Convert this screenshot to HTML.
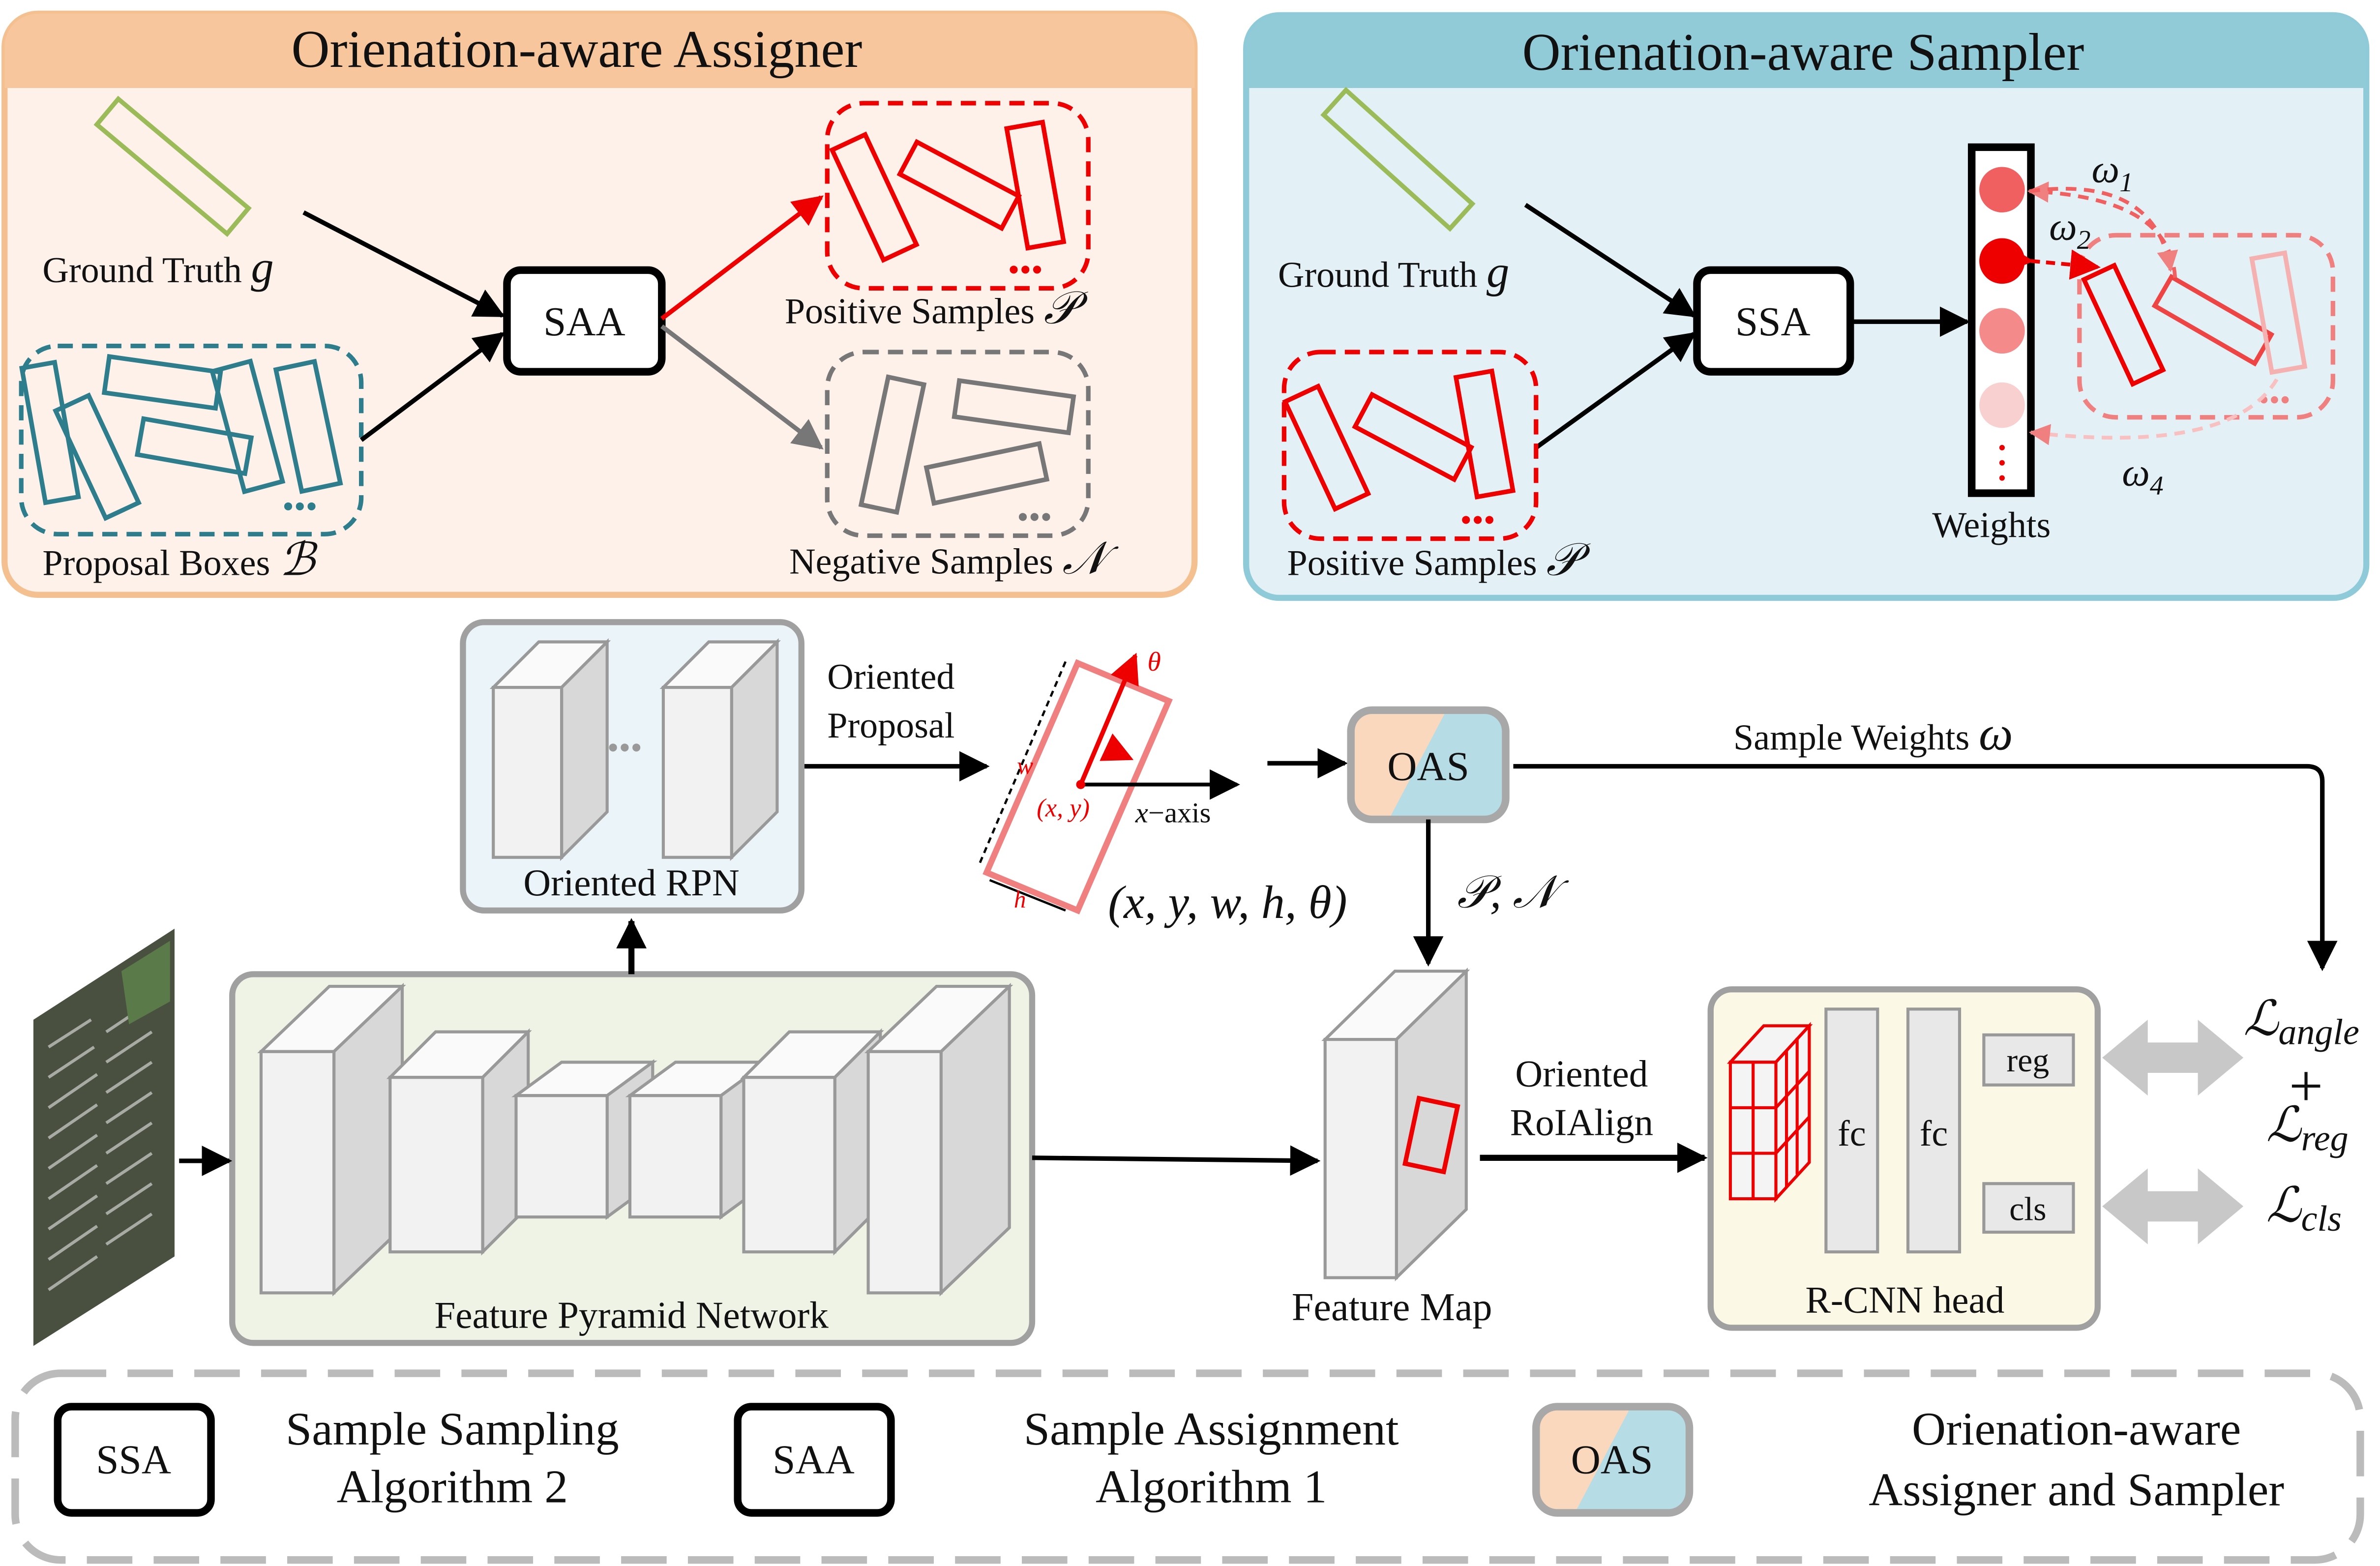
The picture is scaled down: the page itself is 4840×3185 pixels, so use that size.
<!DOCTYPE html>
<html><head><meta charset="utf-8"><style>
html,body{margin:0;padding:0;background:#fff;}
svg{display:block;}
text{font-family:"Liberation Serif",serif;fill:#111;}
</style></head><body>
<svg width="4840" height="3185" viewBox="0 0 1568 1032" preserveAspectRatio="none" xmlns="http://www.w3.org/2000/svg">
<defs>
<marker id="abk" viewBox="0 0 10 10" refX="9" refY="5" markerWidth="20" markerHeight="20" markerUnits="userSpaceOnUse" orient="auto"><path d="M0,0 L10,5 L0,10 z" fill="#000"/></marker>
<marker id="ar" viewBox="0 0 10 10" refX="9" refY="5" markerWidth="20" markerHeight="20" markerUnits="userSpaceOnUse" orient="auto"><path d="M0,0 L10,5 L0,10 z" fill="#e00"/></marker>
<marker id="ag" viewBox="0 0 10 10" refX="9" refY="5" markerWidth="20" markerHeight="20" markerUnits="userSpaceOnUse" orient="auto"><path d="M0,0 L10,5 L0,10 z" fill="#777"/></marker>
<marker id="ap" viewBox="0 0 10 10" refX="9" refY="5" markerWidth="14" markerHeight="14" markerUnits="userSpaceOnUse" orient="auto"><path d="M0,0 L10,5 L0,10 z" fill="#f08080"/></marker>
<linearGradient id="oas" gradientUnits="userSpaceOnUse" x1="898" y1="485" x2="970" y2="523"><stop offset="0.5" stop-color="#f9d8bd"/><stop offset="0.5" stop-color="#b6dce6"/></linearGradient>
<linearGradient id="oas2" gradientUnits="userSpaceOnUse" x1="1020" y1="943" x2="1092" y2="981"><stop offset="0.5" stop-color="#f9d8bd"/><stop offset="0.5" stop-color="#b6dce6"/></linearGradient>
</defs>

<!-- Left panel -->
<rect x="3" y="9" width="784" height="383" rx="22" fill="#fdf1ea" stroke="#f4c08f" stroke-width="4"/>
<path d="M3,58 V31 A22,22 0 0 1 25,9 H765 A22,22 0 0 1 787,31 V58 Z" fill="#f8c69d"/>
<text x="380" y="44" font-size="35" text-anchor="middle">Orienation-aware Assigner</text>
<rect x="58" y="98" width="112" height="22" fill="none" stroke="#9bbb59" stroke-width="3" transform="rotate(40 113 109)"/>
<text x="28" y="186" font-size="24">Ground Truth <tspan font-style="italic" font-size="30">g</tspan></text>
<rect x="14" y="228" width="224" height="124" rx="24" fill="none" stroke="#2e7d8c" stroke-width="3" stroke-dasharray="10,6"/>
<g fill="none" stroke="#2e7d8c" stroke-width="3">
<rect x="22" y="240" width="22" height="90" transform="rotate(-10 33 285)"/>
<rect x="52" y="262" width="24" height="78" transform="rotate(-25 64 301)"/>
<rect x="70" y="240" width="74" height="24" transform="rotate(8 107 252)"/>
<rect x="92" y="282" width="72" height="24" transform="rotate(10 128 294)"/>
<rect x="150" y="240" width="26" height="82" transform="rotate(-15 163 281)"/>
<rect x="190" y="240" width="26" height="82" transform="rotate(-12 203 281)"/>
</g>
<text x="186" y="341" font-size="22" style="fill:#2e7d8c">•••</text>
<text x="28" y="379" font-size="24">Proposal Boxes <tspan font-style="italic" font-size="30">ℬ</tspan></text>
<rect x="334" y="178" width="102" height="67" rx="9" fill="#fff" stroke="#000" stroke-width="5"/>
<text x="385" y="221" font-size="27" text-anchor="middle">SAA</text>
<line x1="200" y1="140" x2="331" y2="208" stroke="#000" stroke-width="3" marker-end="url(#abk)"/>
<line x1="238" y1="290" x2="331" y2="220" stroke="#000" stroke-width="3" marker-end="url(#abk)"/>
<line x1="436" y1="210" x2="541" y2="130" stroke="#e00" stroke-width="3" marker-end="url(#ar)"/>
<line x1="436" y1="215" x2="541" y2="295" stroke="#777" stroke-width="3" marker-end="url(#ag)"/>
<rect x="545" y="68" width="172" height="122" rx="24" fill="none" stroke="#e00" stroke-width="3" stroke-dasharray="10,6"/>
<g fill="none" stroke="#e00" stroke-width="3">
<rect x="564" y="90" width="24" height="80" transform="rotate(-25 576 130)"/>
<rect x="594" y="110" width="76" height="24" transform="rotate(28 632 122)"/>
<rect x="670" y="82" width="24" height="80" transform="rotate(-10 682 122)"/>
</g>
<text x="664" y="185" font-size="22" style="fill:#e00">•••</text>
<text x="517" y="213" font-size="24">Positive Samples <tspan font-style="italic" font-size="30">𝒫</tspan></text>
<rect x="545" y="232" width="172" height="121" rx="24" fill="none" stroke="#777" stroke-width="3" stroke-dasharray="10,6"/>
<g fill="none" stroke="#777" stroke-width="3">
<rect x="576" y="250" width="24" height="86" transform="rotate(12 588 293)"/>
<rect x="630" y="256" width="76" height="24" transform="rotate(8 668 268)"/>
<rect x="612" y="300" width="76" height="24" transform="rotate(-12 650 312)"/>
</g>
<text x="670" y="348" font-size="22" style="fill:#777">•••</text>
<text x="520" y="378" font-size="24">Negative Samples <tspan font-style="italic" font-size="30">𝒩</tspan></text>

<!-- Right panel -->
<rect x="821" y="10" width="738" height="384" rx="22" fill="#e3f1f6" stroke="#8ecad8" stroke-width="4"/>
<path d="M821,58 V32 A22,22 0 0 1 843,10 H1537 A22,22 0 0 1 1559,32 V58 Z" fill="#92cbd8"/>
<text x="1188" y="46" font-size="35" text-anchor="middle">Orienation-aware Sampler</text>
<rect x="865" y="94" width="112" height="22" fill="none" stroke="#9bbb59" stroke-width="3" transform="rotate(42 921 105)"/>
<text x="842" y="189" font-size="24">Ground Truth <tspan font-style="italic" font-size="30">g</tspan></text>
<rect x="1118" y="178" width="101" height="67" rx="9" fill="#fff" stroke="#000" stroke-width="5"/>
<text x="1168" y="221" font-size="27" text-anchor="middle">SSA</text>
<line x1="1005" y1="135" x2="1116" y2="208" stroke="#000" stroke-width="3" marker-end="url(#abk)"/>
<line x1="1012" y1="295" x2="1116" y2="220" stroke="#000" stroke-width="3" marker-end="url(#abk)"/>
<line x1="1219" y1="212" x2="1296" y2="212" stroke="#000" stroke-width="3" marker-end="url(#abk)"/>
<rect x="1299" y="97" width="39" height="228" fill="#fff" stroke="#000" stroke-width="5"/>
<circle cx="1319" cy="125" r="15" fill="#f06060"/>
<circle cx="1319" cy="172" r="15" fill="#ee0000"/>
<circle cx="1319" cy="218" r="15" fill="#f48a8a"/>
<circle cx="1319" cy="267" r="15" fill="#f8d0d0"/>
<g fill="#e00"><circle cx="1319" cy="295" r="1.8"/><circle cx="1319" cy="305" r="1.8"/><circle cx="1319" cy="315" r="1.8"/></g>
<text x="1273" y="354" font-size="24">Weights</text>
<rect x="1370" y="155" width="167" height="120" rx="24" fill="none" stroke="#f08080" stroke-width="3" stroke-dasharray="10,6"/>
<g fill="none" stroke-width="3">
<rect x="1388" y="176" width="22" height="76" stroke="#e00" transform="rotate(-25 1399 214)"/>
<rect x="1420" y="200" width="76" height="22" stroke="#e44" transform="rotate(30 1458 211)"/>
<rect x="1490" y="168" width="22" height="76" stroke="#f5b0b0" transform="rotate(-10 1501 206)"/>
</g>
<text x="1488" y="270" font-size="20" style="fill:#f08080">•••</text>
<path d="M1433,183 Q1430,130 1337,126" fill="none" stroke="#f06060" stroke-width="2.5" stroke-dasharray="7,5" marker-end="url(#ap)"/>
<path d="M1337,126 Q1420,115 1430,178" fill="none" stroke="#f06060" stroke-width="2.5" stroke-dasharray="7,5" marker-end="url(#ap)"/>
<line x1="1338" y1="172" x2="1382" y2="176" stroke="#e00" stroke-width="2.5" stroke-dasharray="6,4" marker-start="url(#ar)" marker-end="url(#ar)"/>
<path d="M1500,250 Q1470,300 1338,285" fill="none" stroke="#f8c0c0" stroke-width="2.5" stroke-dasharray="7,5" marker-end="url(#ap)"/>
<text x="1378" y="120" font-size="26" font-style="italic">ω<tspan font-size="18" dy="6">1</tspan></text>
<text x="1350" y="158" font-size="26" font-style="italic">ω<tspan font-size="18" dy="6">2</tspan></text>
<text x="1398" y="320" font-size="26" font-style="italic">ω<tspan font-size="18" dy="6">4</tspan></text>
<rect x="846" y="232" width="166" height="123" rx="24" fill="none" stroke="#e00" stroke-width="3" stroke-dasharray="10,6"/>
<g fill="none" stroke="#e00" stroke-width="3">
<rect x="862" y="256" width="24" height="78" transform="rotate(-25 874 295)"/>
<rect x="894" y="276" width="74" height="24" transform="rotate(28 931 288)"/>
<rect x="966" y="246" width="24" height="80" transform="rotate(-10 978 286)"/>
</g>
<text x="962" y="350" font-size="22" style="fill:#e00">•••</text>
<text x="848" y="379" font-size="24">Positive Samples <tspan font-style="italic" font-size="30">𝒫</tspan></text>

<!-- Oriented RPN -->
<rect x="305" y="410" width="223" height="190" rx="14" fill="#eaf4f9" stroke="#a0a0a0" stroke-width="4"/>
<g stroke="#999" stroke-width="2">
<path d="M325,453 L355,423 L400,423 L370,453 Z" fill="#fafafa"/>
<path d="M370,453 L400,423 L400,535 L370,565 Z" fill="#d8d8d8"/>
<rect x="325" y="453" width="45" height="112" fill="#f2f2f2"/>
<path d="M437,453 L467,423 L512,423 L482,453 Z" fill="#fafafa"/>
<path d="M482,453 L512,423 L512,535 L482,565 Z" fill="#d8d8d8"/>
<rect x="437" y="453" width="45" height="112" fill="#f2f2f2"/>
</g>
<text x="400" y="500" font-size="22" style="fill:#999">•••</text>
<text x="416" y="590" font-size="25" text-anchor="middle">Oriented RPN</text>

<!-- FPN -->
<rect x="153" y="642" width="527" height="243" rx="14" fill="#eef3e5" stroke="#a0a0a0" stroke-width="4"/>
<g stroke="#999" stroke-width="2">
<path d="M172,693 L217,650 L265,650 L220,693 Z" fill="#fafafa"/><path d="M220,693 L265,650 L265,809 L220,852 Z" fill="#d8d8d8"/><rect x="172" y="693" width="48" height="159" fill="#f2f2f2"/>
<path d="M257,710 L287,680 L348,680 L318,710 Z" fill="#fafafa"/><path d="M318,710 L348,680 L348,795 L318,825 Z" fill="#d8d8d8"/><rect x="257" y="710" width="61" height="115" fill="#f2f2f2"/>
<path d="M340,722 L370,700 L430,700 L400,722 Z" fill="#fafafa"/><path d="M400,722 L430,700 L430,780 L400,802 Z" fill="#d8d8d8"/><rect x="340" y="722" width="60" height="80" fill="#f2f2f2"/>
<path d="M415,722 L445,700 L505,700 L475,722 Z" fill="#fafafa"/><path d="M475,722 L505,700 L505,780 L475,802 Z" fill="#d8d8d8"/><rect x="415" y="722" width="60" height="80" fill="#f2f2f2"/>
<path d="M490,710 L520,680 L580,680 L550,710 Z" fill="#fafafa"/><path d="M550,710 L580,680 L580,795 L550,825 Z" fill="#d8d8d8"/><rect x="490" y="710" width="60" height="115" fill="#f2f2f2"/>
<path d="M572,693 L617,650 L665,650 L620,693 Z" fill="#fafafa"/><path d="M620,693 L665,650 L665,809 L620,852 Z" fill="#d8d8d8"/><rect x="572" y="693" width="48" height="159" fill="#f2f2f2"/>
</g>
<text x="416" y="875" font-size="25" text-anchor="middle">Feature Pyramid Network</text>

<!-- Aerial image -->
<path d="M22,672 L115,612 L115,828 L22,887 Z" fill="#4a5040"/>
<g stroke="#a8aaa4" stroke-width="2">
<line x1="32" y1="690" x2="60" y2="672"/><line x1="32" y1="710" x2="62" y2="690"/><line x1="32" y1="730" x2="64" y2="708"/><line x1="32" y1="750" x2="64" y2="728"/><line x1="32" y1="770" x2="64" y2="748"/><line x1="32" y1="790" x2="64" y2="768"/><line x1="32" y1="810" x2="64" y2="788"/><line x1="32" y1="830" x2="64" y2="808"/><line x1="32" y1="850" x2="64" y2="828"/>
<line x1="70" y1="680" x2="100" y2="660"/><line x1="70" y1="700" x2="100" y2="680"/><line x1="70" y1="720" x2="100" y2="700"/><line x1="70" y1="740" x2="100" y2="720"/><line x1="70" y1="760" x2="100" y2="740"/><line x1="70" y1="780" x2="100" y2="760"/><line x1="70" y1="800" x2="100" y2="780"/><line x1="70" y1="820" x2="100" y2="800"/>
</g>
<path d="M80,640 L112,620 L112,660 L85,675 Z" fill="#5a7a4a"/>

<line x1="118" y1="765" x2="151" y2="765" stroke="#000" stroke-width="3" marker-end="url(#abk)"/>
<line x1="416" y1="642" x2="416" y2="607" stroke="#000" stroke-width="4" marker-end="url(#abk)"/>

<text x="545" y="454" font-size="24">Oriented</text>
<text x="545" y="486" font-size="24">Proposal</text>
<line x1="530" y1="505" x2="650" y2="505" stroke="#000" stroke-width="3" marker-end="url(#abk)"/>

<!-- proposal drawing -->
<path d="M710,437 L770,462 L710,600 L650,575 Z" fill="none" stroke="#f08080" stroke-width="4"/>
<line x1="712" y1="517" x2="748" y2="432" stroke="#e00" stroke-width="3" marker-end="url(#ar)"/>
<line x1="712" y1="517" x2="815" y2="517" stroke="#000" stroke-width="2.5" marker-end="url(#abk)"/>
<path d="M730,493 L745,500" stroke="#e00" stroke-width="2" fill="none" marker-end="url(#ar)"/>
<circle cx="712" cy="517" r="3" fill="#e00"/>
<line x1="702" y1="436" x2="645" y2="570" stroke="#000" stroke-width="1.5" stroke-dasharray="4,3"/>
<line x1="652" y1="580" x2="702" y2="600" stroke="#000" stroke-width="1.5"/>
<text x="756" y="442" font-size="18" font-style="italic" style="fill:#e00">θ</text>
<text x="670" y="510" font-size="16" font-style="italic" style="fill:#e00">w</text>
<text x="668" y="598" font-size="16" font-style="italic" style="fill:#e00">h</text>
<text x="683" y="538" font-size="17" font-style="italic" style="fill:#e00">(x, y)</text>
<text x="748" y="542" font-size="19"><tspan font-style="italic">x</tspan>−axis</text>
<text x="730" y="605" font-size="31" font-style="italic">(x, y, w, h, θ)</text>

<line x1="835" y1="503" x2="886" y2="503" stroke="#000" stroke-width="3" marker-end="url(#abk)"/>
<rect x="890" y="468" width="102" height="72" rx="14" fill="url(#oas)" stroke="#a8a8a8" stroke-width="5"/>
<text x="941" y="514" font-size="27" text-anchor="middle">OAS</text>
<path d="M997,505 H1520 Q1530,505 1530,515 V638" fill="none" stroke="#000" stroke-width="3" marker-end="url(#abk)"/>
<text x="1142" y="494" font-size="24">Sample Weights <tspan font-style="italic" font-size="32">ω</tspan></text>
<line x1="941" y1="540" x2="941" y2="635" stroke="#000" stroke-width="3" marker-end="url(#abk)"/>
<text x="960" y="598" font-size="30" font-style="italic">𝒫, 𝒩</text>

<!-- Feature map -->
<g stroke="#999" stroke-width="2">
<path d="M873,685 L919,640 L966,640 L920,685 Z" fill="#fafafa"/>
<path d="M920,685 L966,640 L966,797 L920,842 Z" fill="#d8d8d8"/>
<rect x="873" y="685" width="47" height="157" fill="#f2f2f2"/>
</g>
<rect x="930" y="726" width="26" height="44" fill="none" stroke="#e00" stroke-width="3" transform="rotate(12 943 748)"/>
<text x="851" y="870" font-size="26">Feature Map</text>
<line x1="680" y1="763" x2="868" y2="765" stroke="#000" stroke-width="3" marker-end="url(#abk)"/>
<text x="1042" y="716" font-size="25" text-anchor="middle">Oriented</text>
<text x="1042" y="748" font-size="25" text-anchor="middle">RoIAlign</text>
<line x1="975" y1="763" x2="1123" y2="763" stroke="#000" stroke-width="4" marker-end="url(#abk)"/>

<!-- R-CNN head -->
<rect x="1127" y="652" width="255" height="223" rx="14" fill="#fbf8e6" stroke="#a0a0a0" stroke-width="4"/>
<g stroke="#e00" stroke-width="2" fill="#f4f4f4">
<path d="M1140,700 L1162,676 L1192,676 L1170,700 Z"/>
<path d="M1170,700 L1192,676 L1192,766 L1170,790 Z"/>
<rect x="1140" y="700" width="30" height="90"/>
<line x1="1140" y1="730" x2="1170" y2="730"/><line x1="1140" y1="760" x2="1170" y2="760"/>
<line x1="1155" y1="700" x2="1155" y2="790"/>
<line x1="1177" y1="692" x2="1177" y2="782"/><line x1="1184" y1="684" x2="1184" y2="774"/>
<line x1="1170" y1="730" x2="1192" y2="706"/><line x1="1170" y1="760" x2="1192" y2="736"/>
</g>
<rect x="1203" y="665" width="34" height="160" fill="#e8e8e8" stroke="#999" stroke-width="2"/>
<rect x="1257" y="665" width="34" height="160" fill="#e8e8e8" stroke="#999" stroke-width="2"/>
<text x="1220" y="755" font-size="24" text-anchor="middle">fc</text>
<text x="1274" y="755" font-size="24" text-anchor="middle">fc</text>
<rect x="1307" y="682" width="59" height="33" fill="#e8e8e8" stroke="#999" stroke-width="2"/>
<rect x="1307" y="780" width="59" height="32" fill="#e8e8e8" stroke="#999" stroke-width="2"/>
<text x="1336" y="706" font-size="22" text-anchor="middle">reg</text>
<text x="1336" y="804" font-size="22" text-anchor="middle">cls</text>
<text x="1255" y="865" font-size="25" text-anchor="middle">R-CNN head</text>

<path d="M1385,697 L1415,672 L1415,687 L1448,687 L1448,672 L1478,697 L1448,722 L1448,707 L1415,707 L1415,722 Z" fill="#c8c8c8"/>
<path d="M1385,795 L1415,770 L1415,785 L1448,785 L1448,770 L1478,795 L1448,820 L1448,805 L1415,805 L1415,820 Z" fill="#c8c8c8"/>
<text x="1478" y="682" font-size="32" font-style="italic">ℒ<tspan font-size="24" dy="6">angle</tspan></text>
<text x="1508" y="729" font-size="40">+</text>
<text x="1493" y="752" font-size="32" font-style="italic">ℒ<tspan font-size="24" dy="6">reg</tspan></text>
<text x="1493" y="805" font-size="32" font-style="italic">ℒ<tspan font-size="24" dy="6">cls</tspan></text>

<!-- Legend -->
<rect x="10" y="905" width="1545" height="123" rx="30" fill="none" stroke="#bbb" stroke-width="5" stroke-dasharray="30,14"/>
<rect x="38" y="927" width="101" height="70" rx="9" fill="#fff" stroke="#000" stroke-width="5"/>
<text x="88" y="971" font-size="27" text-anchor="middle">SSA</text>
<text x="298" y="952" font-size="31" text-anchor="middle">Sample Sampling</text>
<text x="298" y="990" font-size="31" text-anchor="middle">Algorithm 2</text>
<rect x="486" y="927" width="101" height="70" rx="9" fill="#fff" stroke="#000" stroke-width="5"/>
<text x="536" y="971" font-size="27" text-anchor="middle">SAA</text>
<text x="798" y="952" font-size="31" text-anchor="middle">Sample Assignment</text>
<text x="798" y="990" font-size="31" text-anchor="middle">Algorithm 1</text>
<rect x="1012" y="927" width="101" height="70" rx="14" fill="url(#oas2)" stroke="#a8a8a8" stroke-width="5"/>
<text x="1062" y="971" font-size="27" text-anchor="middle">OAS</text>
<text x="1368" y="952" font-size="31" text-anchor="middle">Orienation-aware</text>
<text x="1368" y="992" font-size="31" text-anchor="middle">Assigner and Sampler</text>
</svg>
</body></html>
